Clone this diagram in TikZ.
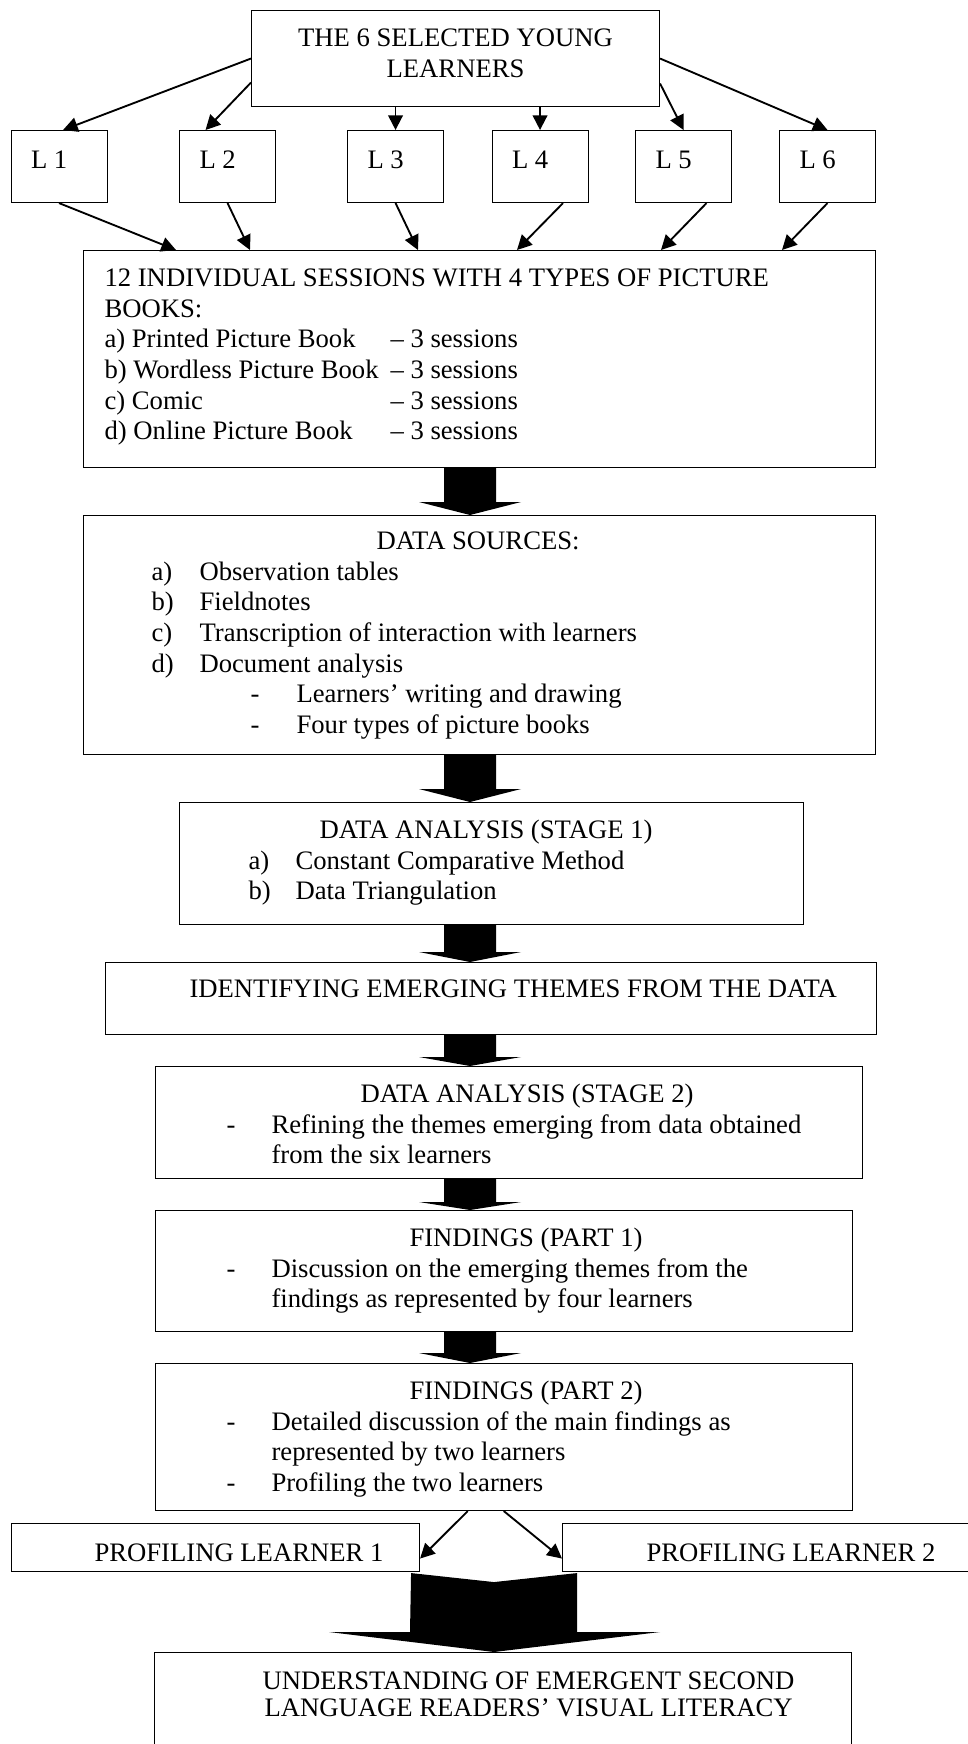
\documentclass[tikz,border=0pt]{standalone}
\usepackage{fontspec}
\setmainfont{Liberation Serif}
\usetikzlibrary{arrows.meta,calc}
\newlength{\px}\setlength{\px}{0.75pt}
\newcommand{\ind}[1]{\hspace*{#1\px}}
\newcommand{\lbl}[2]{\makebox[#1\px][l]{#2}}
\newcommand{\boxbody}[4]{\parbox[t][#2\px][t]{#1\px}{\raggedright\vspace*{#3\px}\strut#4}}
%block arrow between two boxes: upper node, lower node, head length
\newcommand{\bigarrow}[3]{%
  \fill ($(ax |- #1.south)+(-26,0)$) -- ($(ax |- #1.south)+(26,0)$)
    -- ($(ax |- #2.north)+(26,-#3)$) -- ($(ax |- #2.north)+(51,-#3)$)
    -- (ax |- #2.north) -- ($(ax |- #2.north)+(-51,-#3)$)
    -- ($(ax |- #2.north)+(-26,-#3)$) -- cycle;}
\begin{document}
\begin{tikzpicture}[x=0.75pt,y=0.75pt,yscale=-1,xscale=1,
    every node/.style={font=\fontsize{20pt}{23pt}\selectfont},
    box/.style={draw, line width=0.8pt, fill=white, anchor=north west, inner sep=0pt},
    link/.style={line width=1.4pt, -{Triangle[length=11pt,width=11pt]}}]
\useasboundingbox (0,0) rectangle (967,1744);
\coordinate (ax) at (470,0);
\coordinate (bx) at (494,0);
%learners
\node[box] (top) at (251,10) {\boxbody{408}{96}{14.5}{\centering THE 6 SELECTED YOUNG\\ LEARNERS}};
\foreach \i/\x in {1/10.5, 2/179, 3/347, 4/491.5, 5/635, 6/779} {
    \node[box] (L\i) at (\x,130) {\boxbody{96}{72}{16.5}{\ind{20}L \i}};
}
\draw[link] (top.west) -- ($(L1.north)+(4,0)$);
\draw[link] ($(top.west)+(0,24)$) -- ($(L2.north)+(-22,0)$);
\draw[link] (L3.north |- top.south) -- (L3.north);
\draw[link] (L4.north |- top.south) -- (L4.north);
\draw[link] ($(top.east)+(0,25)$) -- (L5.north);
\draw[link] (top.east) -- (L6.north);
%sessions
\node[box] (sess) at (83,250) {\boxbody{791.5}{217}{14.5}{%
    \ind{21}12 INDIVIDUAL SESSIONS WITH 4 TYPES OF PICTURE\\
    \ind{21}BOOKS:\\
    \ind{21}\lbl{286}{a) Printed Picture Book}– 3 sessions\\
    \ind{21}\lbl{286}{b) Wordless Picture Book}– 3 sessions\\
    \ind{21}\lbl{286}{c) Comic}– 3 sessions\\
    \ind{21}\lbl{286}{d) Online Picture Book}– 3 sessions}};
\foreach \i/\a/\b in {1/0/93, 2/0/167, 3/0/335, 4/23/434, 5/23/578, 6/0/699} {
    \draw[link] ($(L\i.south)+(\a,0)$) -- ($(sess.north west)+(\b,0)$);
}
%data sources
\node[box] (src) at (83,515) {\boxbody{791.5}{239}{12.5}{%
    \ind{293}DATA SOURCES:\\
    \ind{68}\lbl{48}{a)}Observation tables\\
    \ind{68}\lbl{48}{b)}Fieldnotes\\
    \ind{68}\lbl{48}{c)}Transcription of interaction with learners\\
    \ind{68}\lbl{48}{d)}Document analysis\\
    \ind{167}\lbl{46}{-}Learners’ writing and drawing\\
    \ind{167}\lbl{46}{-}Four types of picture books}};
\bigarrow{sess}{src}{13}
%analysis 1
\node[box] (stage1) at (179,802) {\boxbody{624}{122}{14.5}{%
    \ind{140}DATA ANALYSIS (STAGE 1)\\
    \ind{69}\lbl{47}{a)}Constant Comparative Method\\
    \ind{69}\lbl{47}{b)}Data Triangulation}};
\bigarrow{src}{stage1}{13}
%themes
\node[box] (themes) at (105,962) {\boxbody{770.5}{72}{13.5}{%
    \ind{84}IDENTIFYING EMERGING THEMES FROM THE DATA}};
\bigarrow{stage1}{themes}{10}
%analysis 2
\node[box] (stage2) at (155,1066) {\boxbody{707}{112}{14.5}{%
    \ind{205}DATA ANALYSIS (STAGE 2)\\
    \ind{71}\lbl{45}{-}Refining the themes emerging from data obtained\\
    \ind{116}from the six learners}};
\bigarrow{themes}{stage2}{9}
%findings
\node[box] (find1) at (155,1210) {\boxbody{696.5}{121}{14.5}{%
    \ind{254}FINDINGS (PART 1)\\
    \ind{71}\lbl{45}{-}Discussion on the emerging themes from the\\
    \ind{116}findings as represented by four learners}};
\bigarrow{stage2}{find1}{8}
\node[box] (find2) at (155,1363) {\boxbody{696.5}{147}{14.5}{%
    \ind{254}FINDINGS (PART 2)\\
    \ind{71}\lbl{45}{-}Detailed discussion of the main findings as\\
    \ind{116}represented by two learners\\
    \ind{71}\lbl{45}{-}Profiling the two learners}};
\bigarrow{find1}{find2}{10}
%profiles
\node[box] (prof1) at (10.5,1523) {\boxbody{408.5}{48}{16.5}{\ind{83.5}PROFILING LEARNER 1}};
\node[box] (prof2) at (562,1523) {\boxbody{420}{48}{16.5}{\ind{84}PROFILING LEARNER 2}};
\draw[link] ($(find2.south)+(-36,0)$) -- ($(prof1.east)+(0,11)$);
\draw[link] (find2.south) -- ($(prof2.west)+(0,11)$);
%understanding
\node[box] (visual) at (154,1652) {\boxbody{697}{110}{15.5}{%
    \ind{108}UNDERSTANDING OF EMERGENT SECOND\\[-3pt]
    \ind{110}LANGUAGE READERS’ VISUAL LITERACY}};
\fill ($(prof1.south east)+(-9,1)$) -- ($(bx |- prof1.south)+(0,10)$) -- ($(prof2.south west)+(15,1)$)
    -- ($(bx |- visual.north)+(83,-20)$) -- ($(bx |- visual.north)+(166,-20)$) -- (bx |- visual.north)
    -- ($(bx |- visual.north)+(-165,-20)$) -- ($(bx |- visual.north)+(-84,-20)$) -- cycle;
\end{tikzpicture}
\end{document}
